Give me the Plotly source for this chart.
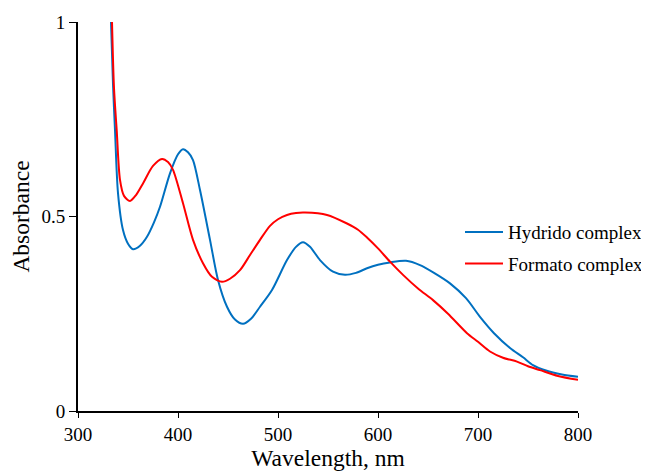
import plotly.graph_objects as go

# Hydrido complex (blue)
hydrido_wl = [333, 335, 337, 340, 345, 350, 355, 362, 369, 376, 382, 392, 400, 405, 410,
              415, 422, 432, 440, 449, 457, 465, 473, 482, 494, 509, 518, 525, 532, 542,
              555, 567, 578, 589, 600, 612, 628, 642, 656, 672, 688, 702, 716, 732, 745,
              755, 768, 784, 800]
hydrido_abs = [1.0, 0.84, 0.722, 0.56, 0.465, 0.43, 0.416, 0.425, 0.448, 0.485, 0.525,
               0.611, 0.66, 0.673, 0.665, 0.645, 0.568, 0.44, 0.337, 0.268, 0.235, 0.224,
               0.237, 0.268, 0.311, 0.388, 0.422, 0.434, 0.422, 0.388, 0.358, 0.35, 0.355,
               0.367, 0.376, 0.382, 0.386, 0.375, 0.355, 0.328, 0.29, 0.242, 0.2, 0.162,
               0.138, 0.118, 0.104, 0.094, 0.088]

# Formato complex (red)
formato_wl = [334, 336, 338.7, 342, 346, 352, 358, 365, 375, 384, 390, 395, 405, 415, 425,
              434, 444, 452, 462, 472, 482, 492, 500, 509, 518, 527, 549, 569, 580, 589,
              600, 612, 625, 640, 655, 670, 689, 700, 712, 725, 739, 750, 762, 780, 800]
formato_abs = [1.0, 0.83, 0.722, 0.594, 0.553, 0.54, 0.555, 0.585, 0.63, 0.648, 0.64, 0.62,
               0.534, 0.44, 0.38, 0.345, 0.332, 0.34, 0.362, 0.401, 0.44, 0.476, 0.493,
               0.504, 0.509, 0.51, 0.504, 0.482, 0.466, 0.446, 0.418, 0.384, 0.35, 0.315,
               0.285, 0.25, 0.2, 0.178, 0.153, 0.137, 0.127, 0.115, 0.105, 0.09, 0.08]

x_ticks = [300, 400, 500, 600, 700, 800]
y_ticks = [0, 0.5, 1]
y_tick_labels = ["0", "0.5", "1"]

FONT = "Liberation Serif, Times New Roman, serif"

fig = go.Figure()
fig.add_trace(go.Scatter(x=hydrido_wl, y=hydrido_abs, mode="lines", name="Hydrido complex",
                         legendgroup="h",
                         line=dict(color="#0070C0", width=2, shape="spline", smoothing=0.8)))
fig.add_trace(go.Scatter(x=formato_wl, y=formato_abs, mode="lines", name="Formato complex",
                         legendgroup="f",
                         line=dict(color="#FF0000", width=2, shape="spline", smoothing=0.8)))

fig.update_layout(
    width=641, height=467,
    margin=dict(l=70, r=71, t=14, b=64, autoexpand=False),
    paper_bgcolor="white", plot_bgcolor="white",
    font=dict(family=FONT, size=19, color="black"),
    legend=dict(xref="container", yref="container", x=1.0, y=0.486,
                xanchor="right", yanchor="middle",
                font=dict(family=FONT, size=19), bgcolor="rgba(0,0,0,0)",
                traceorder="grouped", tracegroupgap=4, itemwidth=38),
    xaxis=dict(range=[300, 800], tickvals=x_ticks, showline=True, linecolor="black",
               linewidth=2, ticks="outside", ticklen=5, tickwidth=1, tickcolor="black",
               showgrid=False, zeroline=False, automargin=False,
               tickfont=dict(family=FONT, size=19),
               title=dict(text="Wavelength, nm", font=dict(family=FONT, size=23.5), standoff=3)),
    yaxis=dict(range=[0, 1], tickvals=y_ticks, ticktext=y_tick_labels, showline=True,
               linecolor="black", linewidth=2, ticks="outside", ticklen=7, tickwidth=1,
               tickcolor="black", showgrid=False, zeroline=False, automargin=False,
               tickfont=dict(family=FONT, size=19),
               title=dict(text="Absorbance", font=dict(family=FONT, size=23.5), standoff=8)),
    showlegend=True,
)

fig.write_html("out.html")
